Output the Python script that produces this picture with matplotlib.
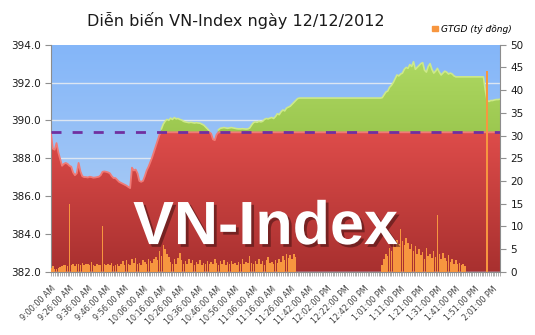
import matplotlib
matplotlib.use('Agg')
import matplotlib.pyplot as plt
import matplotlib.patheffects as pe
import numpy as np
from matplotlib.colors import LinearSegmentedColormap
from matplotlib.path import Path
from matplotlib.patches import Patch

matplotlib.rcParams.update({'font.family': 'DejaVu Sans'})

title = 'Diễn biến VN-Index ngày 12/12/2012'
legend_label = 'GTGD (tỷ đồng)'
watermark = 'VN-Index'

time_labels = ['9:00:00 AM', '9:26:00 AM', '9:36:00 AM', '9:46:00 AM', '9:56:00 AM',
               '10:06:00 AM', '10:16:00 AM', '10:26:00 AM', '10:36:00 AM', '10:46:00 AM',
               '10:56:00 AM', '11:06:00 AM', '11:16:00 AM', '11:26:00 AM', '11:42:00 AM',
               '12:02:00 PM', '12:22:00 PM', '12:42:00 PM', '1:01:00 PM', '1:11:00 PM',
               '1:21:00 PM', '1:31:00 PM', '1:41:00 PM', '1:51:00 PM', '2:01:00 PM']
label_step = 10

# reference level (previous close)
ref_level = 389.37

vnindex = [
    389.30, 388.50, 388.45, 388.80, 388.30, 387.95, 387.60, 387.70, 387.75, 387.70,
    387.60, 387.55, 387.25, 387.10, 387.20, 387.75, 387.30, 387.05, 387.00, 387.00,
    386.98, 387.02, 387.00, 386.97, 386.98, 387.00, 387.02, 387.10, 387.28, 387.30,
    387.28, 387.25, 387.20, 387.05, 386.95, 386.95, 386.85, 386.75, 386.70, 386.65,
    386.60, 386.55, 386.48, 386.42, 387.50, 387.35, 387.40, 387.20, 386.80, 386.75,
    386.80, 387.05, 387.35, 387.55, 387.80, 388.05, 388.35, 388.65, 388.95, 389.25,
    389.55, 389.80, 389.95, 390.05, 390.00, 390.12, 390.05, 390.15, 390.08, 390.10,
    390.05, 390.02, 389.95, 389.92, 389.90, 389.88, 389.90, 389.88, 389.86, 389.88,
    389.86, 389.85, 389.80, 389.75, 389.65, 389.55, 389.45, 389.30, 389.00, 388.95,
    389.25, 389.50, 389.58, 389.60, 389.62, 389.60, 389.58, 389.60, 389.62, 389.60,
    389.58, 389.56, 389.55, 389.55, 389.56, 389.55, 389.54, 389.55, 389.60, 389.75,
    389.88, 389.92, 389.90, 389.95, 389.92, 389.95, 390.05, 390.10, 390.08, 390.12,
    390.15, 390.10, 390.20, 390.35, 390.30, 390.45, 390.55, 390.50, 390.65, 390.70,
    390.75, 390.85, 390.95, 391.05, 391.15, 391.18, 391.18, 391.18, 391.18, 391.18,
    391.18, 391.18, 391.18, 391.18, 391.18, 391.18, 391.18, 391.18, 391.18, 391.18,
    391.18, 391.18, 391.18, 391.18, 391.18, 391.18, 391.18, 391.18, 391.18, 391.18,
    391.18, 391.18, 391.18, 391.18, 391.18, 391.18, 391.18, 391.18, 391.18, 391.18,
    391.18, 391.18, 391.18, 391.18, 391.18, 391.18, 391.18, 391.18, 391.18, 391.18,
    391.20, 391.35, 391.50, 391.55, 391.75, 391.85, 392.00, 392.20, 392.40, 392.35,
    392.45, 392.50, 392.70, 392.80, 392.75, 392.95, 392.85, 393.10, 392.70, 392.80,
    392.90, 393.00, 393.05, 392.65, 392.55, 392.85, 393.00, 392.70, 392.50, 392.60,
    392.75, 392.55, 392.40, 392.50, 392.60, 392.55, 392.45, 392.50, 392.45, 392.35,
    392.30, 392.30, 392.30, 392.30, 392.30, 392.30, 392.30, 392.30, 392.30, 392.30,
    392.30, 392.30, 392.30, 392.30, 392.30, 392.30, 391.60, 391.05, 391.00, 391.05,
    391.05, 391.08, 391.10, 391.10, 391.12,
]

volume = [
    0.8, 1.2, 0.5, 0.6, 0.9, 1.0, 1.3, 1.5, 1.4, 1.2,
    15.0, 1.5, 1.6, 1.3, 1.8, 1.6, 1.4, 1.9, 1.5, 1.6,
    1.7, 1.4, 2.2, 1.5, 1.3, 1.6, 1.4, 1.5, 10.1, 1.8,
    1.5, 1.6, 1.4, 2.0, 1.3, 1.5, 1.7, 1.2, 1.6, 2.3,
    1.5, 2.6, 1.7, 1.4, 2.8, 1.9, 3.0, 1.6, 2.0, 1.5,
    2.6, 2.2, 1.8, 2.9, 2.4, 2.0, 2.7, 3.2, 2.5, 4.5,
    3.5, 5.9, 5.0, 4.0, 3.2, 2.2, 1.8, 2.9, 1.6, 3.0,
    4.2, 2.5, 1.8, 2.3, 1.6, 2.8, 1.9, 2.5, 1.5, 2.2,
    1.7, 2.5, 1.4, 2.0, 1.6, 2.4, 1.8, 2.1, 1.6, 2.7,
    1.9, 1.5, 2.3, 1.8, 2.6, 1.4, 2.1, 1.7, 2.4, 1.6,
    2.0, 1.5, 2.2, 1.8, 2.7, 1.6, 2.1, 1.9, 3.4, 2.0,
    1.6, 2.4, 1.8, 2.8, 1.7, 2.3, 1.5, 2.5, 3.3, 1.9,
    2.1, 1.7, 2.6, 2.0, 2.9, 2.2, 3.4, 2.6, 3.8, 3.0,
    3.6, 2.8, 4.0, 3.2, 0, 0, 0, 0, 0, 0,
    0, 0, 0, 0, 0, 0, 0, 0, 0, 0,
    0, 0, 0, 0, 0, 0, 0, 0, 0, 0,
    0, 0, 0, 0, 0, 0, 0, 0, 0, 0,
    0, 0, 0, 0, 0, 0, 0, 0, 0, 0,
    1.5, 2.8, 4.0, 3.5, 5.2, 4.6, 6.0, 5.5, 7.0, 6.2,
    9.5, 6.8, 5.9, 7.5, 6.4, 5.0, 6.1, 4.5, 5.6, 3.8,
    4.9, 3.6, 4.4, 2.9, 5.2, 3.4, 4.0, 3.1, 4.6, 3.3,
    12.5, 3.8, 2.7, 4.2, 3.0, 2.4, 3.6, 2.2, 2.9, 1.8,
    2.5, 1.6, 2.0, 1.4, 1.8, 1.2, 0, 0, 0, 0,
    0, 0, 0, 0, 0, 0, 0, 44.3, 0, 0,
    0, 0, 0, 0, 0,
]

y_min, y_max = 382.0, 394.0
vol_max = 50

x = np.arange(len(vnindex))
idx = np.array(vnindex)


def gradient_clip(ax, collection, colors, lo, hi, zorder):
    # paint a vertical gradient and clip it to the filled area
    cmap = LinearSegmentedColormap.from_list('grad', colors)
    grad = np.linspace(0, 1, 256).reshape(-1, 1)
    im = ax.imshow(grad, extent=[x[0], x[-1], lo, hi], aspect='auto', cmap=cmap,
                   origin='upper', zorder=zorder, interpolation='bilinear')
    paths = collection.get_paths()
    if paths:
        im.set_clip_path(Path.make_compound_path(*paths), ax.transData)
    collection.set_visible(False)


fig = plt.figure(figsize=(5.35, 3.35), dpi=100)
ax = fig.add_axes([51 / 535, 1 - 271.7 / 335, 449 / 535, 227 / 335])

# sky background
sky = LinearSegmentedColormap.from_list('sky', ['#84B6F9', '#B4D1F3'])
ax.imshow(np.linspace(0, 1, 256).reshape(-1, 1), extent=[x[0], x[-1], y_min, y_max],
          aspect='auto', cmap=sky, origin='upper', zorder=0)

for g in np.arange(386, 394, 2):
    ax.axhline(g, color='#DCE6F2', lw=1, zorder=1)

red_top = np.minimum(idx, ref_level)
red = ax.fill_between(x, y_min, red_top, color='#C83C3A', lw=0)
gradient_clip(ax, red, ['#DE4C4A', '#A8302F'], y_min, ref_level, 2)

green = ax.fill_between(x, ref_level, idx, where=idx > ref_level, interpolate=True,
                        color='#A6CF58', lw=0)
gradient_clip(ax, green, ['#AED862', '#9CC850'], ref_level, 393.2, 2)

# lighter top edges
ax.plot(x, red_top, color='#F07A76', lw=1.3, zorder=3)
green_top = np.where(idx > ref_level, idx, np.nan)
ax.plot(x, green_top, color='#CDE98A', lw=1.2, zorder=3)

ax.axhline(ref_level, color='#7030A0', lw=2, linestyle=(0, (3.6, 4.0)), zorder=4)

ax.set_xlim(x[0], x[-1])
ax.set_ylim(y_min, y_max)
ax.set_yticks(np.arange(y_min, y_max + 0.1, 2))
ax.set_yticklabels(['%.1f' % v for v in np.arange(y_min, y_max + 0.1, 2)])
ax.set_xticks(x)
ax.set_xticklabels([time_labels[i // label_step] if i % label_step == 0 else '' for i in x],
                   rotation=45, ha='right', rotation_mode='anchor', fontsize=5.8, color='#404040')
ax.tick_params(axis='x', length=3, width=0.5, color='#909090', pad=6)
ax.tick_params(axis='y', length=4, width=0.8, color='#909090', labelsize=7.5, labelcolor='#1a1a1a')
for s in ['top', 'right']:
    ax.spines[s].set_visible(False)
for s in ['left', 'bottom']:
    ax.spines[s].set_color('#8C8C8C')

# trading value on the secondary axis
ax2 = ax.twinx()
ax2.bar(x, volume, width=0.8, color='#F7963F', lw=0, zorder=2)
ax2.set_ylim(0, vol_max)
ax2.set_yticks(np.arange(0, vol_max + 1, 5))
ax2.tick_params(axis='y', length=4, width=0.8, color='#909090', labelsize=7.5, labelcolor='#1a1a1a')
ax2.spines['top'].set_visible(False)
ax2.spines['left'].set_visible(False)
ax2.spines['bottom'].set_visible(False)
ax2.spines['right'].set_color('#8C8C8C')

ax2.text(0.478, 0.19, watermark, transform=ax2.transAxes, ha='center', va='center',
         fontsize=44, fontweight='bold', family='Liberation Sans', color='white', zorder=10,
         path_effects=[pe.withSimplePatchShadow(offset=(2, -2), shadow_rgbFace='#4a1515', alpha=0.6)])

fig.text(236 / 535, 1 - 20 / 335, title, ha='center', va='center', fontsize=11.5, color='#1a1a1a')

fig.legend(handles=[Patch(color='#F7963F')], labels=[legend_label], loc='center left',
           bbox_to_anchor=(424 / 535, 1 - 29 / 335), frameon=False, handlelength=0.6,
           handleheight=0.6, handletextpad=0.4, prop={'size': 6.5, 'style': 'italic'})

fig.savefig('out.png', dpi=100)
